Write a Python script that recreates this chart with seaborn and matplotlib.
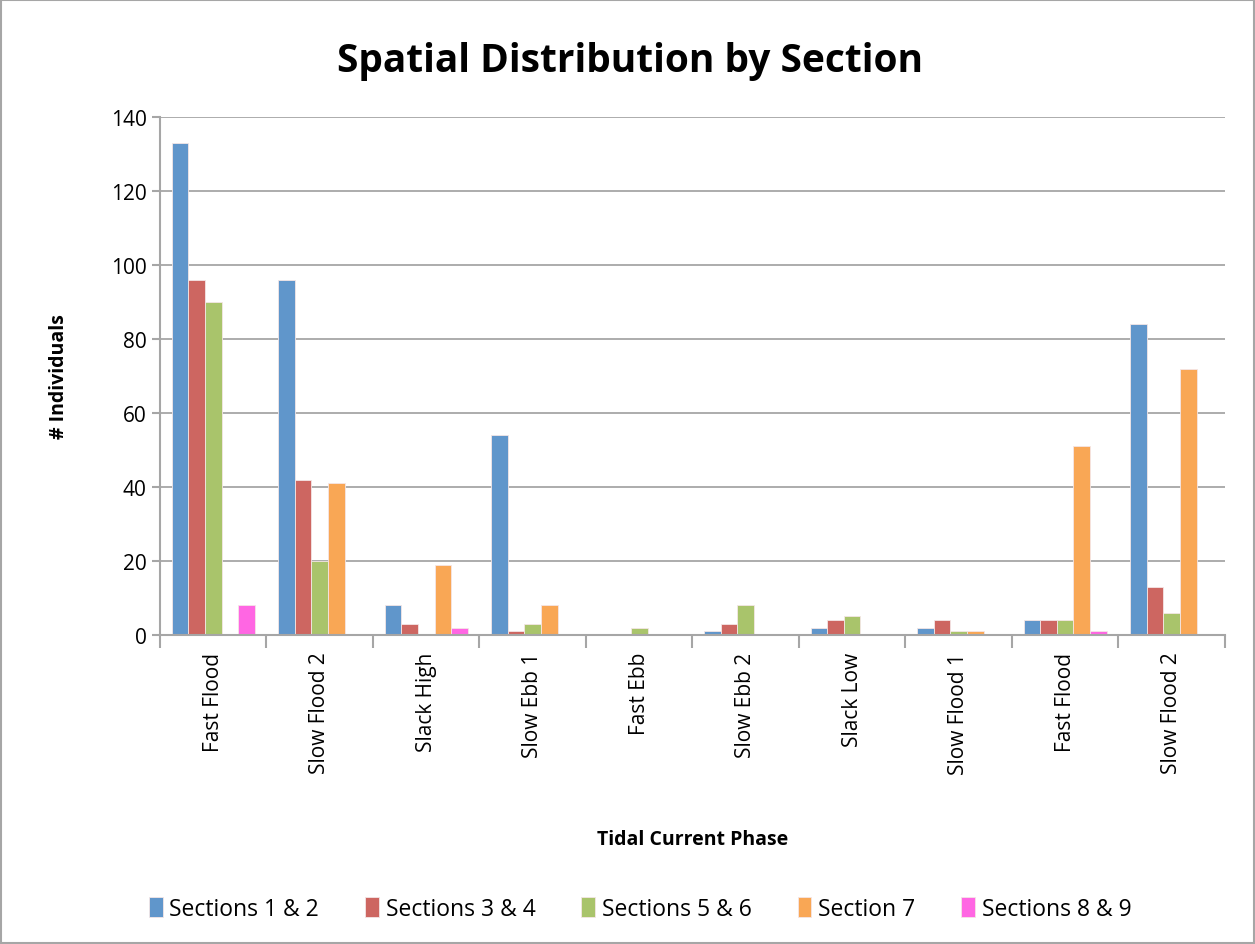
import matplotlib.pyplot as plt
import matplotlib.patches as mpatches
import pandas as pd
import seaborn as sns

phases = ["Fast Flood", "Slow Flood 2", "Slack High", "Slow Ebb 1", "Fast Ebb",
          "Slow Ebb 2", "Slack Low", "Slow Flood 1", "Fast Flood", "Slow Flood 2"]
sections = ["Sections 1 & 2", "Sections 3 & 4", "Sections 5 & 6", "Section 7", "Sections 8 & 9"]

sec_1_2 = [133, 96, 8, 54, 0, 1, 2, 2, 4, 84]
sec_3_4 = [96, 42, 3, 1, 0, 3, 4, 4, 4, 13]
sec_5_6 = [90, 20, 0, 3, 2, 8, 5, 1, 4, 6]
sec_7 = [0, 41, 19, 8, 0, 0, 0, 1, 51, 72]
sec_8_9 = [8, 0, 2, 0, 0, 0, 0, 0, 1, 0]

colors = ["#6096CB", "#CD6661", "#A9C46B", "#F9A755", "#FF66E3"]

# phase names repeat, so key the bars by position and relabel afterwards
rows = []
for name, vals in zip(sections, [sec_1_2, sec_3_4, sec_5_6, sec_7, sec_8_9]):
    for i, v in enumerate(vals):
        rows.append({"phase": str(i), "section": name, "count": v})
df = pd.DataFrame(rows)

sns.set_theme(style="white")
plt.rcParams["font.family"] = ["Open Sans", "DejaVu Sans"]
plt.rcParams["text.color"] = "black"
plt.rcParams["axes.labelcolor"] = "black"
plt.rcParams["xtick.color"] = "black"
plt.rcParams["ytick.color"] = "black"

fig = plt.figure(figsize=(12.55, 9.45), dpi=100)
ax = fig.add_axes([0.1275, 0.327, 0.8485, 0.548])

sns.barplot(
    data=df, x="phase", y="count", hue="section",
    order=[str(i) for i in range(len(phases))], hue_order=sections,
    palette=colors, width=0.78, edgecolor="#F4E6E6", linewidth=0.6,
    saturation=1, ax=ax, legend=True,
)

ax.set_ylim(0, 140)
ax.set_xlim(-0.5, len(phases) - 0.5)
ax.set_yticks(range(0, 141, 20))
ax.yaxis.grid(True, color="#A6A6A6", linewidth=1.3)
ax.set_axisbelow(True)
for s in ["top", "right"]:
    ax.spines[s].set_visible(False)
for s in ["left", "bottom"]:
    ax.spines[s].set_color("#A6A6A6")
    ax.spines[s].set_linewidth(1.5)

ax.set_xticks(range(len(phases)))
ax.set_xticklabels(phases, rotation=90, fontsize=15)
ax.set_xticks([i - 0.5 for i in range(len(phases) + 1)], minor=True)
ax.tick_params(axis="x", which="major", length=0, pad=12, labelcolor="black")
ax.tick_params(axis="x", which="minor", length=9, width=1.5, color="#A6A6A6", direction="out", bottom=True)
ax.tick_params(axis="y", labelsize=15, length=6, width=1.5, color="#A6A6A6", left=True, labelcolor="black")

ax.set_xlabel("Tidal Current Phase", fontsize=14, fontweight="bold", labelpad=40)
ax.set_ylabel("# Individuals", fontsize=14, fontweight="bold", labelpad=30)

fig.suptitle("Spatial Distribution by Section", fontsize=28, fontweight="bold",
             x=0.502, y=0.935, va="center")

handles, labels = ax.get_legend_handles_labels()
ax.legend(
    handles, labels, loc="center", bbox_to_anchor=(0.51, 0.037),
    bbox_transform=fig.transFigure, ncol=5, frameon=False, fontsize=16.5,
    handlelength=0.6, handleheight=1.0, handletextpad=0.3, columnspacing=2.0,
)

fig.patches.append(mpatches.Rectangle(
    (0.001, 0.001), 0.998, 0.998, transform=fig.transFigure,
    fill=False, edgecolor="#A6A6A6", linewidth=1.5,
))

fig.savefig("out.png", dpi=100, facecolor="white")
